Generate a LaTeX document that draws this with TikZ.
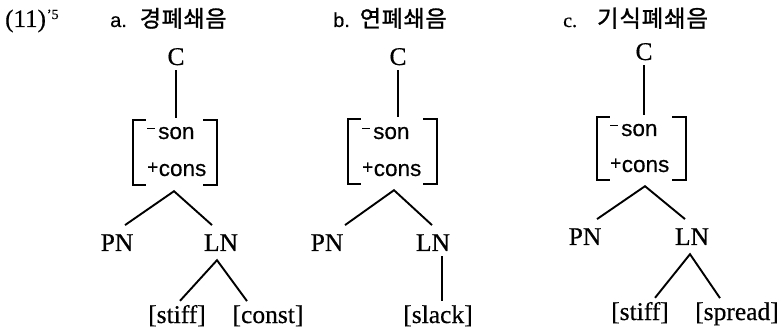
\documentclass[tikz,border=0pt]{standalone}
\usepackage{fontspec}
\setmainfont{Liberation Serif}[FakeBold=0.5]
\newfontfamily\krfont{Noto Sans CJK KR}[FakeBold=1.2, LetterSpace=3]
\newfontfamily\sansfnt{Liberation Sans}[FakeBold=0.4]
\newcommand{\labfont}{\fontsize{25.5}{25.5}\selectfont}
\newcommand{\ftfont}{\sansfnt\fontsize{22.5}{22.5}\selectfont}
\newcommand{\fmin}{\raisebox{9.5pt}{\rule{8pt}{1.6pt}}\hspace{3pt}}
\newcommand{\fplus}{\raisebox{2.5pt}{\fontsize{19}{19}\selectfont +}\hspace{0.5pt}}
\newcommand{\krt}{\krfont\fontsize{23}{23}\selectfont}
\tikzset{
  lab/.style={font=\labfont, inner xsep=0pt, anchor=base},
  cnode/.style={lab, inner ysep=5pt},
  mid/.style={lab, inner ysep=9pt},
  leaf/.style={lab, inner ysep=4pt},
  ft/.style={font=\ftfont, inner sep=0pt, anchor=base west},
  edge/.style={line width=1.9pt},
  brk/.style={line width=1.9pt},
  title/.style={anchor=base west, inner sep=0pt}
}
\begin{document}
\begin{tikzpicture}[x=1pt,y=-1pt]
\useasboundingbox (0,0) rectangle (782,331);
% titles
\node[title] (num) at (5,27) {\fontsize{25}{25}\selectfont (11)\hspace{1pt}\raisebox{8pt}{\fontsize{14}{14}\selectfont '5}};
\node[title] (ta) at (110,27) {\sansfnt\fontsize{20}{20}\selectfont a.\hspace{13pt}\krt 경폐쇄음};
\node[title] (tb) at (333,27) {\sansfnt\fontsize{20}{20}\selectfont b.\hspace{10pt}\krt 연폐쇄음};
\node[title] (tc) at (563,27) {\fontsize{20}{20}\selectfont c.\hspace{20pt}\krfont\fontsize{23.5}{23.5}\selectfont 기식폐쇄음};

% ---------- column a ----------
\node[cnode] (Ca) at (176,65) {C};
\node[minimum width=84pt, minimum height=65pt, inner sep=0pt] (fa) at (175,152.5) {};
\node[ft] (fa1) at (147,139) {\fmin son};
\node[ft] (fa2) at (147,176) {\fplus cons};
\coordinate (apa) at ([xshift=-1pt,yshift=-6pt]fa.south);
\node[mid] (PNa) at (117,251) {PN};
\node[mid] (LNa) at (221,251) {LN};
\node[leaf] (stiffa) at (177,323) {[stiff]};
\node[leaf] (consta) at (268,323) {[const]};
\draw[brk] ([xshift=13pt]fa.north west) -- (fa.north west) -- (fa.south west) -- ([xshift=13pt]fa.south west);
\draw[brk] ([xshift=-14pt]fa.north east) -- (fa.north east) -- (fa.south east) -- ([xshift=-14pt]fa.south east);
\draw[edge] (Ca.south) -- ([yshift=2pt]Ca.south |- fa.north);
\draw[edge] ([xshift=8pt]PNa.north) -- (apa) -- ([xshift=-9pt]LNa.north);
\draw[edge] ([xshift=3pt]stiffa.north) -- ([xshift=-4pt]LNa.south) -- ([xshift=-21pt]consta.north);

% ---------- column b ----------
\node[cnode] (Cb) at (398,65) {C};
\node[minimum width=89pt, minimum height=65pt, inner sep=0pt] (fb) at (392.5,151.5) {};
\node[ft] (fb1) at (362,139) {\fmin son};
\node[ft] (fb2) at (362,176) {\fplus cons};
\coordinate (apb) at ([xshift=1.5pt,yshift=-6pt]fb.south);
\node[mid] (PNb) at (327,251) {PN};
\node[mid] (LNb) at (433,251) {LN};
\node[leaf] (slackb) at (438,323) {[slack]};
\draw[brk] ([xshift=13pt]fb.north west) -- (fb.north west) -- (fb.south west) -- ([xshift=13pt]fb.south west);
\draw[brk] ([xshift=-14pt]fb.north east) -- (fb.north east) -- (fb.south east) -- ([xshift=-14pt]fb.south east);
\draw[edge] (Cb.south) -- ([yshift=2pt]Cb.south |- fb.north);
\draw[edge] ([xshift=18pt]PNb.north) -- (apb) -- ([xshift=-1pt]LNb.north);
\draw[edge] ([xshift=9pt,yshift=4pt]LNb.south) -- ([xshift=9pt]LNb.south |- slackb.north);

% ---------- column c ----------
\node[cnode] (Cc) at (644,60) {C};
\node[minimum width=89pt, minimum height=63pt, inner sep=0pt] (fc) at (641.5,148.5) {};
\node[ft] (fc1) at (610,136) {\fmin son};
\node[ft] (fc2) at (610,172) {\fplus cons};
\coordinate (apc) at ([xshift=3.5pt,yshift=-6pt]fc.south);
\node[mid] (PNc) at (585,245) {PN};
\node[mid] (LNc) at (692,245) {LN};
\node[leaf] (stiffc) at (640,320) {[stiff]};
\node[leaf] (spreadc) at (737,320) {[spread]};
\draw[brk] ([xshift=13pt]fc.north west) -- (fc.north west) -- (fc.south west) -- ([xshift=13pt]fc.south west);
\draw[brk] ([xshift=-14pt]fc.north east) -- (fc.north east) -- (fc.south east) -- ([xshift=-14pt]fc.south east);
\draw[edge] (Cc.south) -- ([yshift=2pt]Cc.south |- fc.north);
\draw[edge] ([xshift=12pt]PNc.north) -- (apc) -- ([xshift=-7pt]LNc.north);
\draw[edge] ([xshift=15pt]stiffc.north) -- ([xshift=-2pt]LNc.south) -- ([xshift=-17pt]spreadc.north);
\end{tikzpicture}
\end{document}
